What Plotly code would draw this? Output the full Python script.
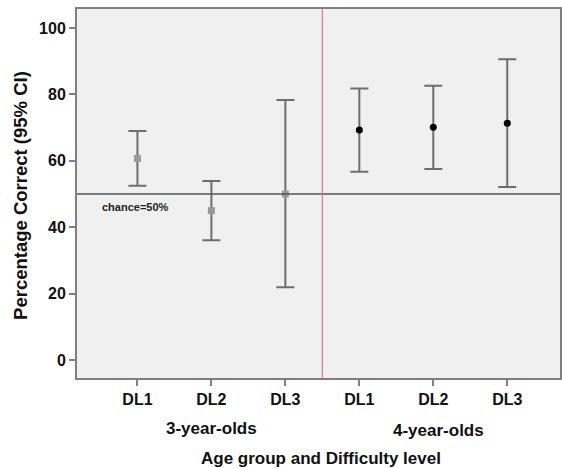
import plotly.graph_objects as go

tick_labels = ["DL1", "DL2", "DL3", "DL1", "DL2", "DL3"]
groups = ["3-year-olds", "4-year-olds"]

x3 = [0, 1, 2]
mean3 = [60.7, 45.0, 50.0]
upper3 = [69.0, 53.9, 78.3]
lower3 = [52.5, 36.1, 21.9]

x4 = [3, 4, 5]
mean4 = [69.3, 70.1, 71.3]
upper4 = [81.8, 82.6, 90.6]
lower4 = [56.7, 57.5, 52.1]

chance = 50

FONT = "Liberation Sans, Arial, sans-serif"

fig = go.Figure()

def add_series(xs, means, ups, lows, color, symbol):
    fig.add_trace(go.Scatter(
        x=xs, y=means, mode="markers",
        marker=dict(color=color, size=7, symbol=symbol),
        error_y=dict(type="data", symmetric=False,
                     array=[u - m for u, m in zip(ups, means)],
                     arrayminus=[m - l for m, l in zip(means, lows)],
                     color="#6e6e6e", thickness=2, width=9),
        showlegend=False, cliponaxis=False,
    ))

add_series(x3, mean3, upper3, lower3, "#9a9a9a", "square")
add_series(x4, mean4, upper4, lower4, "#000000", "circle")

fig.add_shape(type="line", xref="x", yref="y", x0=-1, x1=7, y0=chance, y1=chance,
              line=dict(color="#555555", width=1.5), layer="above")
fig.add_shape(type="line", xref="x", yref="paper", x0=2.5, x1=2.5, y0=0, y1=1,
              line=dict(color="#e87878", width=1.2), layer="above")

fig.add_annotation(x=-0.5, y=46.1, xref="x", yref="y", xanchor="left", yanchor="middle",
                   text="<b>chance=50%</b>", showarrow=False,
                   font=dict(family=FONT, size=11, color="#222"))

fig.add_annotation(x=1.0, y=-0.138, xref="x", yref="paper", xanchor="center", yanchor="middle",
                   text="<b>" + groups[0] + "</b>", showarrow=False,
                   font=dict(family=FONT, size=17, color="#111"))
fig.add_annotation(x=4.07, y=-0.143, xref="x", yref="paper", xanchor="center", yanchor="middle",
                   text="<b>" + groups[1] + "</b>", showarrow=False,
                   font=dict(family=FONT, size=17, color="#111"))
fig.add_annotation(x=0.505, y=-0.2195, xref="paper", yref="paper", xanchor="center", yanchor="middle",
                   text="<b>Age group and Difficulty level</b>", showarrow=False,
                   font=dict(family=FONT, size=17, color="#111"))
fig.add_annotation(x=-0.116, y=0.496, xref="paper", yref="paper", textangle=-90,
                   xanchor="center", yanchor="middle",
                   text="<b>Percentage Correct (95% CI)</b>", showarrow=False,
                   font=dict(family=FONT, size=18.5, color="#111"))

fig.update_layout(
    width=562, height=468,
    margin=dict(l=77, r=0, t=9, b=90),
    paper_bgcolor="white", plot_bgcolor="#f0f0f0",
    font=dict(family=FONT, color="#111"),
)
fig.update_xaxes(
    range=[-0.817, 5.713], tickvals=list(range(6)), ticktext=["<b>%s</b>" % t for t in tick_labels],
    showgrid=False, zeroline=False, showline=True, linecolor="#808080", linewidth=2,
    mirror=True, ticks="outside", ticklen=6, tickcolor="#808080", tickwidth=1.5,
    tickfont=dict(family=FONT, size=16, color="#111"),
)
fig.update_yaxes(
    range=[-5.4, 105.7], tickvals=[0, 20, 40, 60, 80, 100],
    ticktext=["<b>%d</b>" % v for v in [0, 20, 40, 60, 80, 100]],
    showgrid=False, zeroline=False, showline=True, linecolor="#808080", linewidth=2,
    mirror=True, ticks="outside", ticklen=6, tickcolor="#808080", tickwidth=1.5,
    tickfont=dict(family=FONT, size=16, color="#111"),
)

fig.write_html("out.html")
